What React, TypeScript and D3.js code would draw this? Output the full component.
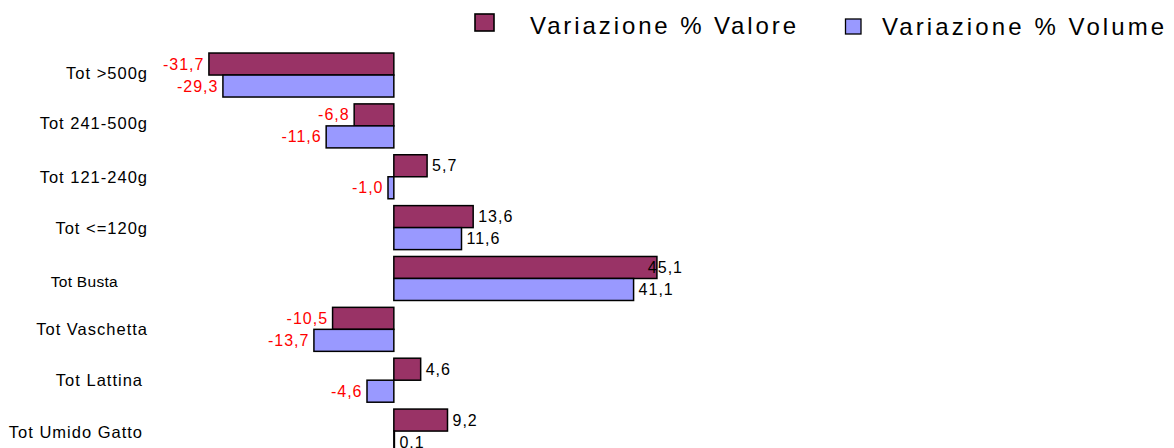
import React from "react";
import * as d3 from "d3";

const categories = [
  "Tot >500g",
  "Tot 241-500g",
  "Tot 121-240g",
  "Tot <=120g",
  "Tot Busta",
  "Tot Vaschetta",
  "Tot Lattina",
  "Tot Umido Gatto",
];
const valore = [-31.7, -6.8, 5.7, 13.6, 45.1, -10.5, 4.6, 9.2];
const volume = [-29.3, -11.6, -1.0, 11.6, 41.1, -13.7, -4.6, 0.1];
const seriesNames = ["Variazione % Valore", "Variazione % Volume"];

const COLORS = ["#993366", "#9999FF"];
const W = 1174;
const H = 448;

// small per-label layout tweaks (visual only)
const LABEL_TWEAK: Record<string, { dx: number; dy: number; size: number; ls: number }> = {
  "Tot >500g": { dx: 0, dy: -2, size: 16.5, ls: 1 },
  "Tot 241-500g": { dx: 0, dy: -3, size: 16.5, ls: 1 },
  "Tot 121-240g": { dx: 0, dy: 0, size: 16.5, ls: 1 },
  "Tot <=120g": { dx: 0, dy: 0, size: 16.5, ls: 1 },
  "Tot Busta": { dx: -30, dy: 3.5, size: 15.5, ls: 0.3 },
  "Tot Vaschetta": { dx: 0, dy: 0, size: 16.5, ls: 1 },
  "Tot Lattina": { dx: -5, dy: 0, size: 16.5, ls: 1 },
  "Tot Umido Gatto": { dx: -5, dy: 1, size: 16.5, ls: 1 },
};

function fmt(v: number) {
  return v.toFixed(1).replace(".", ",");
}

export default function App() {
  const x = d3.scaleLinear().domain([-40, 50]).range([160.5, 685.5]);
  const y = d3
    .scaleBand<string>()
    .domain(categories)
    .range([49.6, 456.5])
    .paddingInner(0.135)
    .paddingOuter(0.0675);
  const sub = d3
    .scaleBand<string>()
    .domain(seriesNames)
    .range([0, y.bandwidth()])
    .padding(0);
  const plotRight = 683;
  const font = "'Liberation Sans', Arial, sans-serif";

  const series = [valore, volume];

  return (
    <svg
      width={W}
      height={H}
      style={{ position: "absolute", left: 0, top: 0, background: "#fff" }}
      fontFamily={font}
    >
      <rect x={0} y={0} width={W} height={H} fill="#fff" />
      {/* legend */}
      <rect x={475} y={14} width={19} height={17} fill={COLORS[0]} stroke="#000" strokeWidth={1.6} />
      <text x={530} y={34} fontSize={24} letterSpacing={2.9} fill="#000">
        {seriesNames[0]}
      </text>
      <rect x={845.5} y={19} width={15.5} height={15} fill={COLORS[1]} stroke="#000" strokeWidth={1.3} />
      <text x={882} y={34.5} fontSize={24} letterSpacing={3.1} fill="#000">
        {seriesNames[1]}
      </text>

      {/* category labels */}
      {categories.map((c) => {
        const t = LABEL_TWEAK[c];
        return (
          <text
            key={c}
            x={148 + t.dx}
            y={(y(c) as number) + y.bandwidth() / 2 + t.dy}
            textAnchor="end"
            dominantBaseline="central"
            fontSize={t.size}
            letterSpacing={t.ls}
            fill="#000"
          >
            {c}
          </text>
        );
      })}

      {/* bars */}
      {series.map((vals, si) =>
        vals.map((v, i) => {
          const c = categories[i];
          const y0 = (y(c) as number) + (sub(seriesNames[si]) as number);
          const x0 = x(Math.min(0, v));
          const w = Math.abs(x(v) - x(0));
          return (
            <rect
              key={`${si}-${i}`}
              x={x0}
              y={y0}
              width={w}
              height={sub.bandwidth()}
              fill={COLORS[si]}
              stroke="#000"
              strokeWidth={1.5}
            />
          );
        })
      )}

      {/* value labels */}
      {series.map((vals, si) =>
        vals.map((v, i) => {
          const c = categories[i];
          const cy = (y(c) as number) + (sub(seriesNames[si]) as number) + sub.bandwidth() / 2;
          const label = fmt(v);
          const neg = v < 0;
          let tx = neg ? x(v) - 4.5 : x(v) + 5;
          let anchor: "start" | "end" = neg ? "end" : "start";
          const estW = label.length * 9.3;
          if (!neg && tx + estW > plotRight) {
            tx = plotRight;
            anchor = "end";
          }
          return (
            <text
              key={`l${si}-${i}`}
              x={tx}
              y={cy}
              textAnchor={anchor}
              dominantBaseline="central"
              fontSize={16}
              letterSpacing={1}
              fill={neg ? "#FF0000" : "#000"}
            >
              {label}
            </text>
          );
        })
      )}
    </svg>
  );
}
